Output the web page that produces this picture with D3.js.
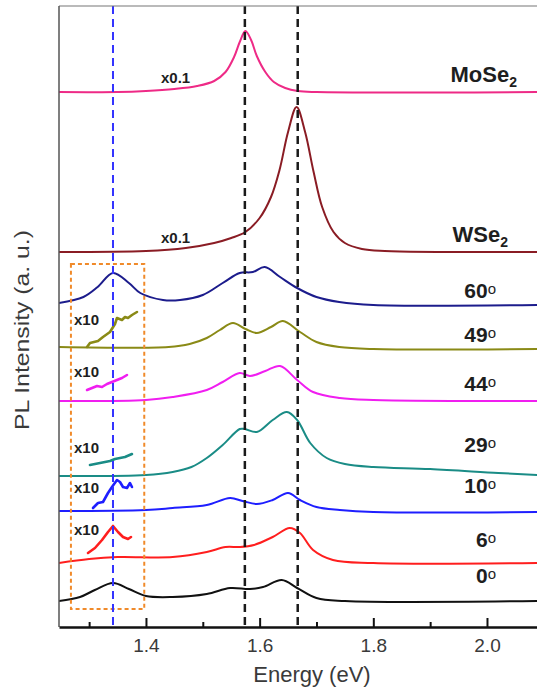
<!DOCTYPE html>
<html><head><meta charset="utf-8">
<script src="https://cdn.jsdelivr.net/npm/d3@7"></script>
<style>
html,body{margin:0;padding:0;background:#fff;}
svg{display:block;font-family:Arial,"Liberation Sans",sans-serif;}
</style></head>
<body><svg id="c" width="537" height="691"></svg>
<script>
// ---------- DATA (energy in eV, intensity in a.u. above each curve's offset) ----------
const curveNames = ["MoSe2", "WSe2", "60", "49", "44", "29", "10", "6", "0"];
const curveOffsets = [535, 375, 322, 278, 226, 151, 115, 64, 26];
const curveColors = ["#ee2a86", "#8a1c24", "#1c1c8c", "#8a8a16", "#f01ef0", "#1a8c86", "#1e1eff", "#ff1e1e", "#111111"];

const specMoSe2 = [[1.247,0],[1.35,0],[1.40,1],[1.45,3],[1.49,6],[1.52,11],[1.54,20],[1.555,35],[1.565,50],[1.575,61],[1.585,52],[1.595,36],[1.61,20],[1.625,10],[1.645,4],[1.667,1],[1.70,0],[2.09,0]];
const specWSe2 = [[1.247,0],[1.40,1],[1.47,4],[1.52,9],[1.55,14],[1.575,20],[1.60,34],[1.62,55],[1.635,82],[1.65,120],[1.665,145],[1.68,120],[1.695,80],[1.71,45],[1.73,20],[1.75,9],[1.78,3],[1.82,1],[2.09,0]];
const spec60 = [[1.247,2],[1.29,8],[1.315,18],[1.342,32],[1.37,22],[1.39,12],[1.43,5],[1.46,5],[1.50,10],[1.535,22],[1.565,32],[1.588,33],[1.609,38],[1.636,28],[1.666,17],[1.70,8],[1.74,3],[1.80,0],[2.09,0]];
const spec49 = [[1.247,2],[1.44,2],[1.477,5],[1.507,11],[1.53,19],[1.553,26],[1.575,20],[1.595,16],[1.62,22],[1.641,28],[1.671,17],[1.70,7],[1.74,2],[1.80,0],[2.09,0]];
const spec44 = [[1.247,0],[1.40,1],[1.447,4],[1.507,11],[1.535,19],[1.565,28],[1.583,25],[1.61,30],[1.636,35],[1.666,21],[1.694,9],[1.741,3],[1.80,1],[2.09,0]];
const spec29 = [[1.247,0],[1.40,1],[1.447,4],[1.48,9],[1.507,18],[1.535,31],[1.565,47],[1.574,47],[1.595,44],[1.623,56],[1.648,64],[1.666,56],[1.689,33],[1.718,18],[1.75,12],[1.80,9],[1.90,7],[2.02,3],[2.09,1]];
const spec10 = [[1.247,1],[1.40,2],[1.447,4],[1.507,7],[1.548,14],[1.57,11],[1.595,8],[1.623,12],[1.65,19],[1.671,12],[1.70,5],[1.741,2],[1.80,0],[2.09,0]];
const spec6 = [[1.247,0],[1.30,4],[1.35,6],[1.447,6],[1.507,11],[1.54,16],[1.565,16],[1.59,18],[1.623,26],[1.653,35],[1.671,30],[1.694,13],[1.729,3],[1.80,0],[2.09,0]];
const spec0 = [[1.247,0],[1.284,4],[1.31,11],[1.342,18],[1.37,12],[1.40,5],[1.447,4],[1.507,7],[1.548,13],[1.583,12],[1.606,14],[1.639,21],[1.666,13],[1.70,3],[1.75,0],[2.09,0]];
const spectra = [specMoSe2, specWSe2, spec60, spec49, spec44, spec29, spec10, spec6, spec0];

// x10 magnified insets (absolute a.u.)
const insetCurves = [3, 4, 5, 6, 7]; // indices into curveNames (49, 44, 29, 10, 6)
const inset49 = [[1.2963,280],[1.3015,284],[1.3156,286],[1.3244,290],[1.3367,295],[1.3455,303],[1.349,309],[1.3578,307],[1.3631,310],[1.3684,309],[1.3754,312],[1.3842,315]];
const inset44 = [[1.2963,237],[1.3051,239],[1.3139,241],[1.3227,240],[1.3314,243],[1.3402,245],[1.349,247],[1.3578,249],[1.3666,252]];
const inset29 = [[1.3015,162],[1.3191,164],[1.3367,166],[1.3455,168],[1.3543,169],[1.3631,170],[1.3754,173]];
const inset10 = [[1.3068,119],[1.3156,124],[1.3244,125],[1.3332,134],[1.3402,140],[1.349,147],[1.3543,145],[1.3596,140],[1.3666,139],[1.3719,144],[1.3754,140]];
const inset6 = [[1.298,74],[1.3103,79],[1.3227,87],[1.3332,95],[1.342,101],[1.3508,95],[1.3596,90],[1.3684,88],[1.3737,90]];
const insets = [inset49, inset44, inset29, inset10, inset6];

const refLinesBlack = [1.574, 1.667];
const refLineBlue = 1.342;
const boxEnergy = [1.268, 1.397];
const boxIntensity = [18, 363];
const majorTicks = [1.4, 1.6, 1.8, 2.0];
const minorTicks = [1.3, 1.5, 1.7, 1.9];

// ---------- LAYOUT ----------
const svg = d3.select("#c");
const L = 59, R = 537, T = 6, B = 627;
const x = d3.scaleLinear().domain([1.247, 2.088]).range([L, R]);
const y = d3.scaleLinear().domain([0, 621]).range([B, T]);

svg.append("defs").append("clipPath").attr("id","plot")
  .append("rect").attr("x", L).attr("y", T).attr("width", R - L).attr("height", B - T);

const g = svg.append("g").attr("clip-path","url(#plot)");

// curves
spectra.forEach((s, i) => {
  const line = d3.line().x(d => x(d[0])).y(d => y(curveOffsets[i] + d[1])).curve(d3.curveCatmullRom.alpha(0.5));
  g.append("path").attr("d", line(s)).attr("fill","none")
   .attr("stroke", curveColors[i]).attr("stroke-width", 2).attr("stroke-linejoin","round");
});

// insets
insets.forEach((s, k) => {
  const line = d3.line().x(d => x(d[0])).y(d => y(d[1])).curve(d3.curveLinear);
  g.append("path").attr("d", line(s)).attr("fill","none")
   .attr("stroke", curveColors[insetCurves[k]]).attr("stroke-width", 2.6)
   .attr("stroke-linejoin","round").attr("stroke-linecap","round");
});

// orange dashed box
g.append("rect")
  .attr("x", x(boxEnergy[0])).attr("y", y(boxIntensity[1]))
  .attr("width", x(boxEnergy[1]) - x(boxEnergy[0]))
  .attr("height", y(boxIntensity[0]) - y(boxIntensity[1]))
  .attr("fill","none").attr("stroke","#f08a2a").attr("stroke-width",2)
  .attr("stroke-dasharray","4,3");

// dashed reference lines
g.append("line").attr("x1", x(refLineBlue)).attr("x2", x(refLineBlue))
  .attr("y1", T).attr("y2", B).attr("stroke","#3434ff").attr("stroke-width",2)
  .attr("stroke-dasharray","8,5");
refLinesBlack.forEach(e => {
  g.append("line").attr("x1", x(e)).attr("x2", x(e))
    .attr("y1", T).attr("y2", B).attr("stroke","#1a1a1a").attr("stroke-width",2.5)
    .attr("stroke-dasharray","8,5");
});

// frame
svg.append("line").attr("x1", L).attr("x2", R).attr("y1", T).attr("y2", T)
  .attr("stroke","#777").attr("stroke-width",1.2);
svg.append("line").attr("x1", L).attr("x2", L).attr("y1", T).attr("y2", B)
  .attr("stroke","#555").attr("stroke-width",1.5);

// x axis
const ax = svg.append("g").attr("transform", `translate(0,${B})`)
  .call(d3.axisBottom(x).tickValues(majorTicks).tickFormat(d3.format(".1f"))
    .tickSizeInner(-9).tickSizeOuter(0).tickPadding(12));
ax.select(".domain").attr("stroke","#111").attr("stroke-width",2.5);
ax.selectAll(".tick line").attr("stroke","#111").attr("stroke-width",2);
ax.selectAll(".tick text").attr("font-size",19).attr("fill","#3a3a3a")
  .attr("font-family","Arial, 'Liberation Sans', sans-serif");
const axm = svg.append("g").attr("transform", `translate(0,${B})`)
  .call(d3.axisBottom(x).tickValues(minorTicks).tickFormat("").tickSizeInner(-5).tickSizeOuter(0));
axm.select(".domain").remove();
axm.selectAll(".tick line").attr("stroke","#111").attr("stroke-width",2);

// axis titles
svg.append("text").attr("x", 312).attr("y", 682).attr("text-anchor","middle")
  .attr("font-size",22).attr("fill","#3a3a3a").text("Energy (eV)");
svg.append("text").attr("transform","translate(29,330) rotate(-90)").attr("text-anchor","middle")
  .attr("font-size",20).attr("fill","#3a3a3a")
  .attr("textLength",200).attr("lengthAdjust","spacingAndGlyphs").text("PL Intensity (a. u.)");

// right labels
const labelGap = [10, 10, 7, 7, 10, 24, 19, 16, 18];
curveNames.forEach((n, i) => {
  const t = svg.append("text").attr("font-weight","bold").attr("fill","#1e1e1e");
  if (i < 2) {
    t.attr("x", i === 0 ? 517 : 508).attr("y", y(curveOffsets[i]) - labelGap[i])
     .attr("text-anchor","end").attr("font-size",22);
    t.append("tspan").text(n.slice(0, -1));
    t.append("tspan").attr("font-size",14).attr("dy",5).text(n.slice(-1));
  } else {
    t.attr("x", 496).attr("y", y(curveOffsets[i]) - labelGap[i])
     .attr("text-anchor","end").attr("font-size",21);
    t.append("tspan").text(n);
    t.append("tspan").attr("font-size",15).attr("dy",-4).attr("font-weight","normal").text("o");
  }
});

// x0.1 labels
[0, 1].forEach(i => {
  svg.append("text").attr("x", 161).attr("y", y(curveOffsets[i]) - 9)
    .attr("font-size",15).attr("font-weight","bold").attr("fill","#1e1e1e").text("x0.1");
});
// x10 labels
const x10Base = [325, 377, 453, 493, 535];
insetCurves.forEach((ci, k) => {
  svg.append("text").attr("x", 74).attr("y", x10Base[k])
    .attr("font-size",15).attr("font-weight","bold").attr("fill","#1e1e1e").text("x10");
});
</script></body></html>
